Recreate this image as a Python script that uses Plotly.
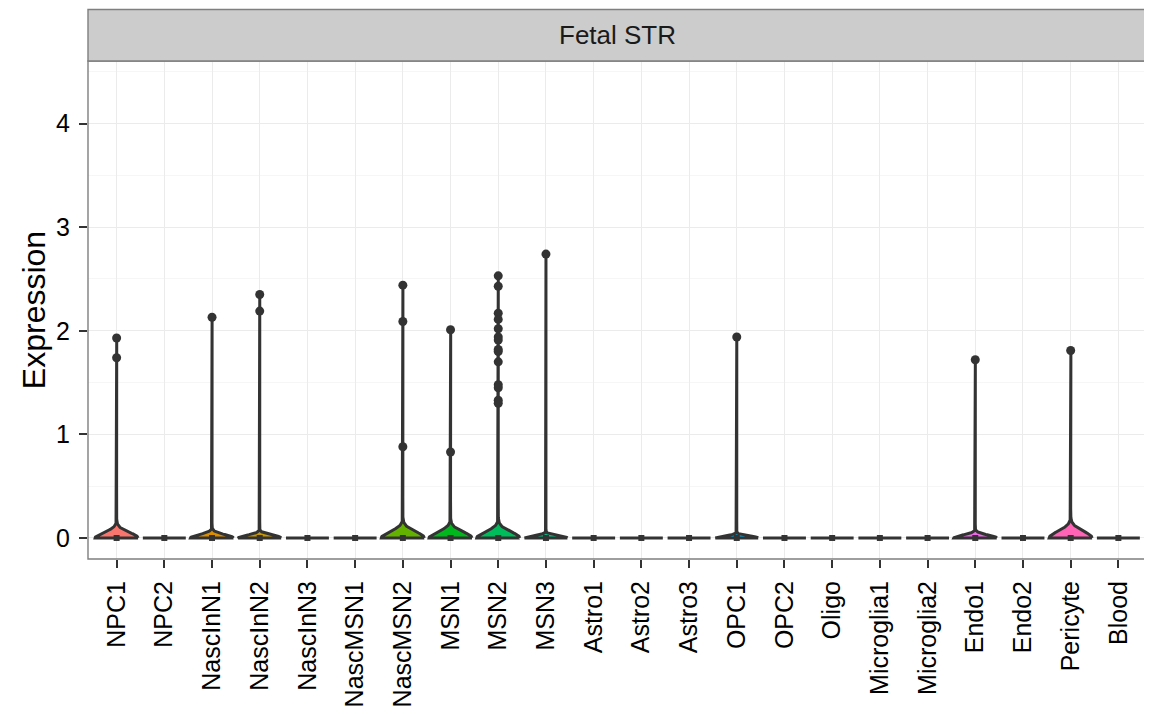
import numpy as np
import plotly.graph_objects as go

# ---------------- data ----------------
categories = ["NPC1", "NPC2", "NascInN1", "NascInN2", "NascInN3", "NascMSN1",
              "NascMSN2", "MSN1", "MSN2", "MSN3", "Astro1", "Astro2", "Astro3",
              "OPC1", "OPC2", "Oligo", "Microglia1", "Microglia2", "Endo1",
              "Endo2", "Pericyte", "Blood"]

# estimated number of cells per group (most have zero expression)
cell_counts = [220, 150, 340, 780, 200, 150,
               260, 150, 780, 900, 120, 100, 80,
               650, 110, 90, 60, 50, 310,
               70, 100, 40]

# non-zero expression values visible as points
nonzero_values = [
    [1.93, 1.74],                       # NPC1
    [],                                 # NPC2
    [2.13],                             # NascInN1
    [2.35, 2.19],                       # NascInN2
    [],                                 # NascInN3
    [],                                 # NascMSN1
    [2.44, 2.09, 0.88],                 # NascMSN2
    [2.01, 0.83],                       # MSN1
    [2.53, 2.43, 2.17, 2.11, 2.02, 1.94, 1.91, 1.82, 1.80, 1.70,
     1.48, 1.45, 1.33, 1.30],           # MSN2
    [2.74],                             # MSN3
    [], [], [],                         # Astro1-3
    [1.94],                             # OPC1
    [], [], [], [],                     # OPC2, Oligo, Microglia1-2
    [1.72],                             # Endo1
    [],                                 # Endo2
    [1.81],                             # Pericyte
    [],                                 # Blood
]

strip_title = "Fetal STR"
y_title = "Expression"
y_ticks = [0, 1, 2, 3, 4]


# ---------------- helpers ----------------
def hcl_hex(h, c=100.0, l=65.0):
    hr = np.radians(h)
    U, V = c * np.cos(hr), c * np.sin(hr)
    Xn, Yn, Zn = 95.047, 100.0, 108.883
    Y = Yn * ((l + 16) / 116) ** 3
    den = Xn + 15 * Yn + 3 * Zn
    un, vn = 4 * Xn / den, 9 * Yn / den
    u = U / (13 * l) + un
    v = V / (13 * l) + vn
    X = 9.0 * Y * u / (4 * v)
    Z = -X / 3 - 5 * Y + 3 * Y / v
    X, Y, Z = X / 100, Y / 100, Z / 100
    r = 3.240479 * X - 1.537150 * Y - 0.498535 * Z
    g = -0.969256 * X + 1.875992 * Y + 0.041556 * Z
    b = 0.055648 * X - 0.204043 * Y + 1.057311 * Z

    def gam(t):
        t = 1.055 * t ** (1 / 2.4) - 0.055 if t > 0.00304 else 12.92 * t
        return int(round(min(max(t, 0), 1) * 255))
    return "#%02X%02X%02X" % (gam(r), gam(g), gam(b))


def bw_nrd0(x):
    hi = np.std(x, ddof=1)
    q75, q25 = np.percentile(x, [75, 25])
    lo = min(hi, (q75 - q25) / 1.34)
    if not lo:
        lo = hi or abs(x[0]) or 1.0
    return 0.9 * lo * len(x) ** -0.2


def violin_outline(values, center, half_width=0.45, n=512):
    x = np.asarray(values, dtype=float)
    bw = bw_nrd0(x)
    ys = np.linspace(x.min(), x.max(), n)
    dens = np.exp(-0.5 * ((ys[:, None] - x[None, :]) / bw) ** 2).sum(axis=1)
    w = dens / dens.max() * half_width
    xs = np.concatenate([center + w, (center - w)[::-1], [center + w[0]]])
    yy = np.concatenate([ys, ys[::-1], [ys[0]]])
    return xs, yy


n_cat = len(categories)
hues = np.linspace(15, 375, n_cat + 1)[:n_cat]
colors = [hcl_hex(h) for h in hues]

fig = go.Figure()

dark = "#333333"
for i, (cat, nc, nz) in enumerate(zip(categories, cell_counts, nonzero_values)):
    vals = np.concatenate([np.zeros(nc - len(nz)), np.array(nz, dtype=float)])
    xs, ys = violin_outline(vals, i)
    fig.add_trace(go.Scatter(
        x=xs, y=ys, mode="lines", fill="toself", fillcolor=colors[i],
        line=dict(color=dark, width=3), hoverinfo="skip", showlegend=False))

# points at zero
fig.add_trace(go.Scatter(
    x=list(range(n_cat)), y=[0] * n_cat, mode="markers",
    marker=dict(color=dark, size=6, symbol="square"),
    hoverinfo="skip", showlegend=False))

# non-zero points
px, py = [], []
for i, nz in enumerate(nonzero_values):
    px += [i] * len(nz)
    py += list(nz)
fig.add_trace(go.Scatter(
    x=px, y=py, mode="markers", marker=dict(color=dark, size=9),
    hoverinfo="skip", showlegend=False))

# ---------------- layout ----------------
# page body has an 8px margin; the figure is sized/offset to compensate
W, H = 1144, 699
m_l, m_r, m_t, m_b = 80, 5, 53, 148
plot_h = H - m_t - m_b
strip_h = 51.5

font_family = "Liberation Sans, Arial, sans-serif"

fig.update_layout(
    template="none",
    width=W, height=H,
    margin=dict(l=m_l, r=m_r, t=m_t, b=m_b, pad=0, autoexpand=False),
    paper_bgcolor="white", plot_bgcolor="white",
    font=dict(family=font_family, color="black"),
    xaxis=dict(
        range=[-0.6, n_cat - 1 + 0.6], automargin=False,
        tickmode="array", tickvals=list(range(n_cat)), ticktext=categories,
        tickangle=-90, tickfont=dict(size=25, color="black"),
        ticks="outside", ticklen=8, tickwidth=1.6, tickcolor=dark,
        ticklabelstandoff=3,
        showgrid=True, gridcolor="#EBEBEB", gridwidth=1.2,
        zeroline=False, showline=False,
    ),
    yaxis=dict(
        range=[-0.203, 4.604], automargin=False,
        tickmode="array", tickvals=y_ticks,
        tickfont=dict(size=25, color="black"),
        ticks="outside", ticklen=8, tickwidth=1.6, tickcolor=dark,
        ticklabelstandoff=4,
        showgrid=True, gridcolor="#EBEBEB", gridwidth=1.2,
        minor=dict(dtick=0.5, tick0=0, showgrid=True, gridcolor="#F6F6F6", gridwidth=1.2),
        zeroline=False, showline=False,
        title=dict(text=y_title, font=dict(size=32, color="black"), standoff=0),
    ),
    shapes=[
        dict(type="rect", xref="paper", yref="paper", x0=0, x1=1, y0=0, y1=1,
             line=dict(color="#7F7F7F", width=1.4), fillcolor="rgba(0,0,0,0)",
             layer="above"),
        dict(type="rect", xref="paper", yref="paper", x0=0, x1=1,
             y0=1, y1=1 + strip_h / plot_h,
             line=dict(color="#7F7F7F", width=1.4), fillcolor="#CCCCCC",
             layer="above"),
    ],
    annotations=[
        dict(text=strip_title, xref="paper", yref="paper", x=0.5,
             y=1 + strip_h / 2 / plot_h, showarrow=False,
             font=dict(size=26, color="#1A1A1A"), xanchor="center", yanchor="middle"),
    ],
)

fig.write_html("out.html")
